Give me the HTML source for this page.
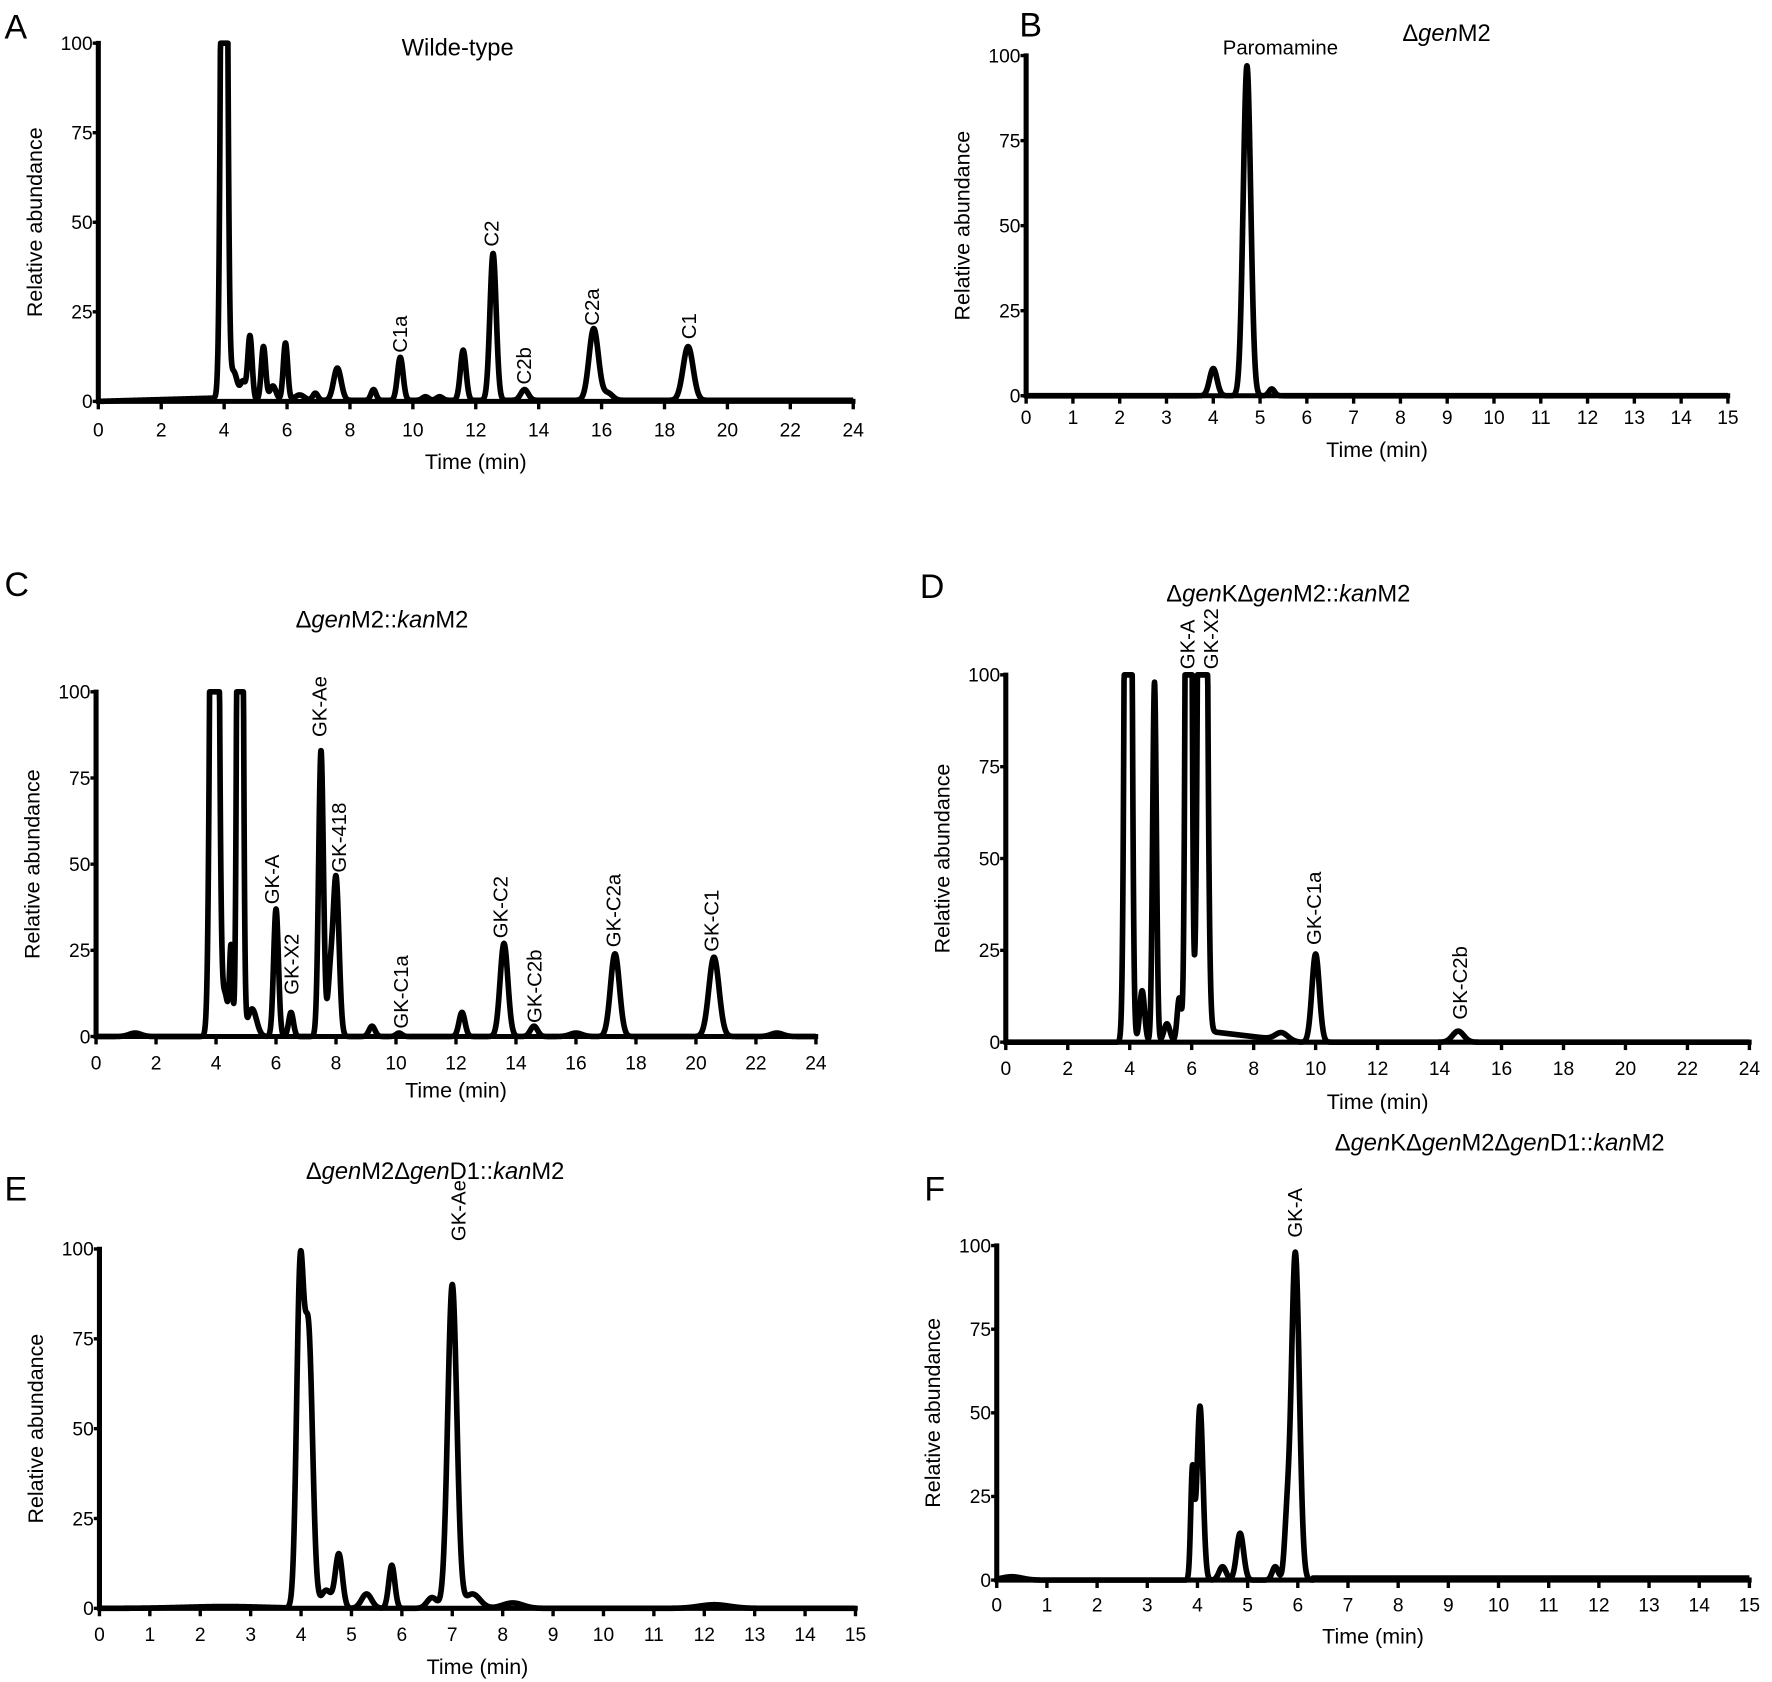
<!DOCTYPE html>
<html><head><meta charset="utf-8"><style>
html,body{margin:0;padding:0;background:#fff}
svg{display:block}
text{font-family:"Liberation Sans",Arial,sans-serif;fill:#000}
</style></head><body>
<svg id="s" width="1772" height="1682" viewBox="0 0 1568 1488" xmlns="http://www.w3.org/2000/svg">
<rect width="1568" height="1488" fill="#fff"/>
<g id="g"></g>
<text x="4" y="34" font-size="30">A</text>
<text x="902" y="32" font-size="30">B</text>
<text x="4" y="527" font-size="30">C</text>
<text x="814" y="529" font-size="30">D</text>
<text x="4" y="1062" font-size="30">E</text>
<text x="818" y="1062" font-size="30">F</text>
<text x="405" y="49" font-size="21" text-anchor="middle">Wilde-type</text>
<text x="1280" y="36" font-size="21" text-anchor="middle">Δ<tspan font-style="italic">gen</tspan>M2</text>
<text x="1133" y="48" font-size="18" text-anchor="middle">Paromamine</text>
<text x="338" y="555" font-size="21" text-anchor="middle">Δ<tspan font-style="italic">gen</tspan>M2::<tspan font-style="italic">kan</tspan>M2</text>
<text x="1140" y="532" font-size="21" text-anchor="middle">Δ<tspan font-style="italic">gen</tspan>KΔ<tspan font-style="italic">gen</tspan>M2::<tspan font-style="italic">kan</tspan>M2</text>
<text x="385" y="1043" font-size="21" text-anchor="middle">Δ<tspan font-style="italic">gen</tspan>M2Δ<tspan font-style="italic">gen</tspan>D1::<tspan font-style="italic">kan</tspan>M2</text>
<text x="1327" y="1018" font-size="21" text-anchor="middle">Δ<tspan font-style="italic">gen</tspan>KΔ<tspan font-style="italic">gen</tspan>M2Δ<tspan font-style="italic">gen</tspan>D1::<tspan font-style="italic">kan</tspan>M2</text>
</svg>
<script>
var NS="http://www.w3.org/2000/svg",G=document.getElementById("g");
function el(t,a,txt){var e=document.createElementNS(NS,t);for(var k in a)e.setAttribute(k,a[k]);if(txt!=null)e.textContent=txt;G.appendChild(e);return e;}
function panel(p){
 var X=function(t){return p.x0+(t/p.tmax)*(p.x1-p.x0)};
 var Y=function(v){return p.y0+(v/100)*(p.y100-p.y0)};
 for(var t=0;t<=p.tmax;t+=p.step){
  el("line",{x1:X(t),x2:X(t),y1:p.y0,y2:p.y0+7,stroke:"#000","stroke-width":3});
  el("text",{x:X(t),y:p.ty,"font-size":17,"text-anchor":"middle"},String(t));
 }
 [0,25,50,75,100].forEach(function(v){
  el("line",{x1:p.x0-5,x2:p.x0,y1:Y(v),y2:Y(v),stroke:"#000","stroke-width":3});
  el("text",{x:p.x0-5,y:Y(v)+6,"font-size":17,"text-anchor":"end"},String(v));
 });
 el("text",{x:(p.x0+p.x1)/2,y:p.tl,"font-size":19,"text-anchor":"middle"},"Time (min)");
 var cy=(p.y0+p.y100)/2;
 el("text",{x:p.x0-50,y:cy,"font-size":19,"text-anchor":"middle",transform:"rotate(-90 "+(p.x0-50)+" "+cy+")"},"Relative abundance");
 var d="";
 for(var i=0;i<=3000;i++){
  var t=p.tmax*i/3000,v=p.base?p.base(t):0;
  p.pk.forEach(function(k){var z=(t-k[0])/k[2];v+=k[1]*Math.exp(-0.5*z*z);});
  if(v>100)v=100;
  d+=(i?"L":"M")+X(t).toFixed(2)+" "+Y(v).toFixed(2);
 }
 el("path",{d:d,fill:"none",stroke:"#000","stroke-width":5,"stroke-linejoin":"round"});
 el("line",{x1:p.x0,x2:p.x0,y1:p.y100-2,y2:p.y0+2,stroke:"#000","stroke-width":4.5});
 el("line",{x1:p.x0-2,x2:p.x1+2,y1:p.y0,y2:p.y0,stroke:"#000","stroke-width":4.5});
 (p.lab||[]).forEach(function(l){
  el("text",{x:l[1],y:l[2],"font-size":18,transform:"rotate(-90 "+l[1]+" "+l[2]+")"},l[0]);
 });
}
panel({x0:87,x1:755,y0:355,y100:38,tmax:24,step:2,ty:386,tl:415,
 base:function(t){return t<3.8?t*0.25:0.3},
 pk:[[4.0,300,0.08],[4.3,8,0.12],[4.6,5,0.08],[4.82,18,0.07],[5.25,15,0.07],[5.55,4,0.1],[5.95,16,0.07],[6.4,1.5,0.15],[6.9,2,0.08],[7.6,9,0.12],[8.75,3,0.08],[9.6,12,0.09],[10.4,1,0.1],[10.85,1,0.1],[11.6,14,0.09],[12.55,41,0.1],[13.55,3,0.12],[15.75,20,0.15],[16.2,2,0.15],[18.75,15,0.16]],
 lab:[["C1a",360,312],["C2",441,218],["C2b",470,340],["C2a",530,288],["C1",616,300]]});
panel({x0:908,x1:1529,y0:350,y100:49,tmax:15,step:1,ty:375,tl:404,
 pk:[[4.0,8,0.08],[4.72,97,0.08],[5.25,2,0.06]]});
panel({x0:85,x1:722,y0:917,y100:612,tmax:24,step:2,ty:946,tl:971,
 pk:[[1.3,1,0.2],[3.95,400,0.1],[4.3,12,0.1],[4.5,25,0.05],[4.8,400,0.07],[5.2,8,0.15],[6.0,37,0.08],[6.5,7,0.08],[7.5,83,0.08],[7.8,15,0.08],[8.0,46,0.1],[9.2,3,0.1],[10.1,1,0.1],[12.2,7,0.1],[13.6,27,0.13],[14.6,3,0.12],[16.0,1,0.2],[17.3,24,0.15],[20.6,23,0.17],[22.7,1,0.2]],
 lab:[["GK-A",247,800],["GK-X2",264,880],["GK-Ae",289,652],["GK-418",306,772],["GK-C1a",361,910],["GK-C2",449,830],["GK-C2b",479,905],["GK-C2a",549,838],["GK-C1",636,842]]});
panel({x0:890,x1:1548,y0:922,y100:597,tmax:24,step:2,ty:951,tl:981,
 base:function(t){return t>6.5&&t<9.5?3*(9.5-t)/3:0},
 pk:[[3.95,400,0.08],[4.4,14,0.08],[4.8,98,0.06],[5.2,5,0.1],[5.6,12,0.07],[5.9,400,0.07],[6.35,400,0.1],[8.9,2,0.2],[10.0,24,0.12],[14.6,3,0.18]],
 lab:[["GK-A",1057,592],["GK-X2",1078,592],["GK-C1a",1169,836],["GK-C2b",1298,902]]});
panel({x0:88,x1:757,y0:1423,y100:1105,tmax:15,step:1,ty:1452,tl:1481,
 pk:[[2.5,0.5,0.8],[3.98,90,0.07],[4.15,75,0.08],[4.5,5,0.1],[4.75,15,0.07],[5.3,4,0.1],[5.8,12,0.06],[6.6,3,0.1],[7.0,90,0.09],[7.4,4,0.15],[8.2,1.5,0.2],[12.2,1,0.3]],
 lab:[["GK-Ae",412,1098]]});
panel({x0:882,x1:1548,y0:1398,y100:1102,tmax:15,step:1,ty:1426,tl:1454,
 base:function(t){return t>6.3?0.6:0},
 pk:[[0.3,1,0.2],[3.9,32,0.035],[4.05,52,0.06],[4.5,4,0.07],[4.85,14,0.07],[5.55,4,0.06],[5.78,14,0.05],[5.95,98,0.08]],
 lab:[["GK-A",1152,1095]]});
</script>
</body></html>
